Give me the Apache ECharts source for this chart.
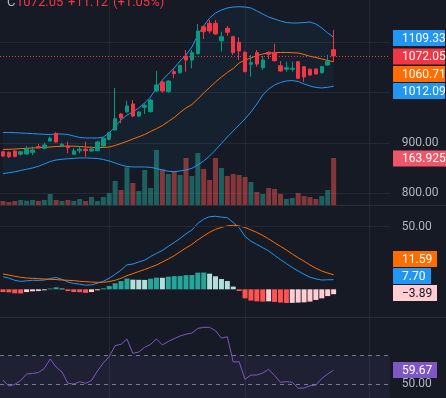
<!DOCTYPE html>
<html>
<head>
<meta charset="utf-8">
<title>K线 + BOLL + MACD + RSI</title>
<script src="https://cdn.jsdelivr.net/npm/echarts@6/dist/echarts.min.js"></script>
<style>
  html, body { margin: 0; padding: 0; background: #161a25; overflow: hidden; }
  #main { width: 446px; height: 398px; }
</style>
</head>
<body>
<div id="main"></div>
<script>
// ---- 数据 ----
var categories = ['1','2','3','4','5','6','7','8','9','10','11','12','13','14','15','16','17','18','19','20',
  '21','22','23','24','25','26','27','28','29','30','31','32','33','34','35','36','37','38','39','40',
  '41','42','43','44','45','46','47','48','49','50','51','52','53','54','55','56','57'];

// [open, close, low, high]
var ohlc = [
  [882.5, 874.0, 872.0, 884.0], [881.3, 872.6, 870.0, 883.0], [883.9, 873.4, 871.0, 886.0],
  [877.4, 882.5, 875.0, 884.0], [878.0, 887.9, 876.0, 893.8], [881.3, 885.9, 876.0, 892.5],
  [892.5, 889.9, 889.0, 897.8], [889.3, 895.8, 887.3, 900.4], [903.7, 909.0, 902.3, 912.3],
  [919.0, 901.7, 900.0, 921.0], [894.4, 897.2, 892.5, 900.4], [893.8, 890.4, 879.4, 902.3],
  [877.4, 884.0, 876.0, 889.3], [884.5, 887.3, 879.4, 893.8], [887.3, 884.5, 872.6, 902.3],
  [883.9, 887.9, 882.5, 889.3], [884.5, 901.7, 884.0, 904.0], [893.8, 909.0, 892.0, 911.0],
  [907.1, 920.2, 905.0, 922.0], [925.5, 947.9, 924.0, 1008.7], [957.2, 949.3, 938.8, 959.0],
  [961.2, 973.0, 959.0, 983.6], [977.0, 953.2, 951.0, 984.9], [953.2, 961.2, 951.0, 963.0],
  [970.5, 974.4, 957.2, 978.4], [961.8, 984.9, 960.0, 987.0], [1002.7, 1014.6, 1001.0, 1042.3],
  [1020.5, 1002.7, 999.4, 1022.0], [1001.3, 1022.5, 999.0, 1024.0], [1041.0, 1037.0, 1028.0, 1046.0],
  [1039.0, 1053.0, 1037.0, 1055.0], [1072.0, 1064.1, 1041.0, 1083.9], [1064.1, 1078.6, 1047.7, 1083.9],
  [1076.6, 1121.5, 1075.0, 1135.4], [1130.0, 1120.2, 1105.7, 1132.0], [1136.8, 1121.5, 1117.0, 1143.3],
  [1136.8, 1115.6, 1114.0, 1143.3], [1102.3, 1110.3, 1080.6, 1120.2], [1126.9, 1119.0, 1112.2, 1131.4],
  [1110.3, 1078.6, 1074.0, 1112.0], [1099.2, 1082.0, 1064.1, 1109.0], [1079.4, 1041.0, 1039.8, 1081.0],
  [1055.6, 1058.7, 1031.0, 1074.0], [1078.6, 1056.2, 1050.9, 1083.9], [1048.9, 1064.1, 1044.3, 1072.0],
  [1079.4, 1075.4, 1066.0, 1081.0], [1078.6, 1062.7, 1061.0, 1096.4], [1052.8, 1042.3, 1041.0, 1062.0],
  [1045.7, 1048.9, 1041.0, 1060.8], [1045.7, 1047.6, 1041.0, 1060.8], [1060.8, 1027.9, 1026.0, 1062.0],
  [1050.9, 1030.5, 1021.0, 1052.0], [1045.7, 1034.4, 1033.0, 1047.0], [1046.3, 1036.4, 1035.0, 1047.0],
  [1039.0, 1050.9, 1037.0, 1053.0], [1054.2, 1060.93, 1053.0, 1074.4], [1084.6, 1072.05, 1060.8, 1123.5]
];

var volumes = [14, 10.5, 14, 17.4, 15.1, 17.4, 14, 17.4, 38.4, 17.4, 14, 17.4, 14, 20.9, 14, 27.9, 14, 27.9,
  41.9, 83.7, 52.3, 131.4, 76.7, 48.8, 122.1, 59.3, 191.8, 124.4, 108.1, 116.3, 104.6, 163.9, 101.1, 181.4,
  125.6, 87.2, 163.9, 129, 101.1, 108.1, 104.6, 97.7, 80.2, 45.3, 38.4, 59.3, 55.8, 38.4, 20.9, 24.4, 41.9,
  31.4, 27.9, 20.9, 31.4, 52.3, 163.925];

var bbUpper = [920.6, 920.6, 920.2, 919.6, 919.0, 918.2, 917.6, 917.0, 916.6, 917.6, 917.6, 916.6, 913.6,
  910.7, 909.7, 909.7, 909.7, 911.6, 919.6, 932.4, 945.3, 955.2, 961.1, 969.1, 979.0, 990.8, 1008.7, 1024.5,
  1036.4, 1048.3, 1062.1, 1074.0, 1089.8, 1113.6, 1131.4, 1147.3, 1157.2, 1163.1, 1167.1, 1169.0, 1169.6,
  1169.0, 1167.1, 1161.1, 1155.2, 1149.2, 1145.3, 1141.3, 1138.3, 1137.4, 1137.4, 1138.3, 1139.3, 1135.4,
  1127.5, 1117.6, 1109.33];
var bbMid = [886.9, 887.3, 887.9, 888.5, 889.3, 889.9, 890.5, 891.2, 891.8, 892.8, 893.2, 893.8, 893.4,
  892.8, 891.8, 891.2, 890.9, 890.9, 891.8, 894.8, 898.8, 903.1, 907.7, 912.0, 916.6, 922.5, 928.1, 934.4,
  942.3, 950.3, 960.2, 969.1, 976.0, 986.9, 998.8, 1009.7, 1020.5, 1030.4, 1039.4, 1047.3, 1058.2, 1064.1,
  1068.1, 1073.0, 1076.0, 1078.0, 1078.6, 1079.0, 1079.0, 1078.6, 1078.0, 1075.0, 1071.4, 1069.1, 1066.1,
  1063.1, 1060.71];
var bbLower = [839.0, 840.8, 842.7, 845.3, 847.7, 850.3, 853.6, 858.2, 863.1, 866.1, 867.5, 868.5, 869.5,
  870.1, 870.1, 869.7, 869.1, 867.1, 864.1, 860.2, 856.2, 853.2, 852.3, 852.3, 852.3, 851.6, 849.3, 846.3,
  843.7, 842.9, 844.3, 846.3, 849.7, 856.2, 864.1, 874.0, 885.9, 898.8, 911.6, 923.5, 935.4, 947.3, 961.1,
  977.0, 994.8, 1006.7, 1014.6, 1019.6, 1022.5, 1023.5, 1021.5, 1016.6, 1012.6, 1009.7, 1008.7, 1010.1,
  1012.09];

var macdLine = [10.0, 9.0, 7.2, 6.3, 6.8, 7.2, 7.1, 7.4, 8.6, 9.4, 8.0, 5.8, 4.7, 4.1, 3.3, 3.6, 4.8, 6.4,
  8.8, 12.0, 15.4, 19.5, 20.2, 21.8, 23.3, 26.1, 28.7, 31.0, 34.3, 37.3, 40.6, 44.3, 47.3, 52.7, 56.0, 58.0,
  58.3, 57.6, 57.2, 53.3, 49.2, 42.2, 38.4, 35.8, 33.2, 30.6, 27.1, 23.7, 20.5, 17.4, 14.6, 12.0, 9.6, 8.3,
  7.4, 7.6, 7.70];
var macdSignal = [12.2, 11.4, 10.4, 9.6, 9.0, 8.8, 8.5, 8.2, 8.0, 7.8, 7.4, 7.2, 6.9, 6.4, 6.1, 5.8, 5.6,
  5.6, 6.2, 7.2, 8.8, 10.9, 12.5, 14.2, 15.8, 17.6, 19.4, 21.8, 24.2, 26.8, 30.0, 33.0, 35.9, 39.4, 42.6,
  45.5, 47.9, 49.4, 50.6, 51.1, 50.6, 49.4, 47.4, 45.4, 43.0, 40.2, 37.2, 34.3, 31.4, 28.2, 25.2, 22.4,
  19.4, 16.8, 14.6, 13.0, 11.59];
var macdHist = [-2.2, -2.4, -3.2, -3.3, -2.2, -1.6, -1.4, -0.8, 0.6, 1.6, 0.6, -1.4, -2.2, -2.3, -2.8,
  -2.2, -0.8, 0.8, 2.6, 4.8, 6.6, 8.6, 7.7, 7.6, 7.5, 8.5, 9.3, 9.2, 10.1, 10.5, 10.6, 11.3, 11.4, 13.3,
  13.4, 12.5, 10.4, 8.2, 6.6, 2.2, -1.36, -7.2, -9.0, -9.6, -9.8, -9.6, -10.1, -10.6, -10.9, -10.8, -10.6,
  -10.4, -9.8, -8.5, -7.2, -5.4, -3.89];

var rsiValues = [52.9, 48.8, 49.9, 52.6, 57.0, 57.4, 58.0, 60.8, 67.2, 61.8, 58.4, 50.7, 50.2, 51.8, 50.7,
  52.6, 59.1, 64.5, 68.9, 76.4, 77.2, 80.9, 71.1, 72.0, 75.2, 77.2, 80.9, 76.8, 79.2, 81.1, 82.9, 84.1,
  84.9, 88.1, 88.8, 88.8, 86.5, 81.5, 82.4, 65.2, 65.4, 53.4, 56.3, 56.3, 57.7, 60.2, 56.0, 51.4, 51.8,
  51.4, 47.3, 47.5, 49.0, 49.5, 54.0, 57.0, 59.67];

var priceLabels = [800, 900];
var macdLabels = [50];
var rsiLabels = [75, 50];
var rsiBands = [70, 50, 30];
var timeGridIdx = [18, 41, 62];

// ---- 样式 ----
var UP = '#089981', DOWN = '#f23645';
var GRID_LINE = '#242833', SEP_LINE = '#2a2e39', AXIS_TXT = '#b2b5be';
var FONT = 'Roboto, sans-serif';
var PAD = 9; // 右侧空白的K线位

var xData = categories.slice();
for (var k = 1; k <= PAD; k++) { xData.push('+' + k); }

var last = ohlc.length - 1;
var lastClose = ohlc[last][1];
var change = lastClose - ohlc[last - 1][1];
var changePct = change / ohlc[last - 1][1] * 100;

var L = -4.3, R = 56.3;
function xAxisOf(i) {
  return { type: 'category', gridIndex: i, data: xData, boundaryGap: true, show: false };
}
function fmt2(v) { return (v < 0 ? '\u2212' : '') + Math.abs(v).toFixed(2); }

var chart = echarts.init(document.getElementById('main'));

var option = {
  animation: false,
  backgroundColor: '#161a25',
  textStyle: { fontFamily: FONT },
  grid: [
    { left: L, right: R, top: 0, height: 205 },     // 主图
    { left: L, right: R, top: 145, height: 60 },    // 成交量
    { left: L, right: R, top: 205, height: 112 },   // MACD
    { left: L, right: R, top: 317, height: 81 }     // RSI
  ],
  xAxis: [xAxisOf(0), xAxisOf(1), xAxisOf(2), xAxisOf(3)],
  yAxis: [
    {
      gridIndex: 0, type: 'value', position: 'right', min: 777, max: 1182.9,
      axisLine: { show: false }, axisTick: { show: false },
      splitLine: { show: true, showMinLine: false, showMaxLine: false, lineStyle: { color: GRID_LINE } },
      axisLabel: {
        margin: 12, color: AXIS_TXT, fontSize: 12, fontFamily: FONT,
        showMinLabel: false, showMaxLabel: false,
        formatter: function (v) { return priceLabels.indexOf(v) >= 0 ? v.toFixed(2) : ''; }
      }
    },
    { gridIndex: 1, type: 'value', min: 0, max: 209.3, show: false },
    { gridIndex: 2, type: 'value', min: -22.1, max: 67.3, show: false },
    { gridIndex: 3, type: 'value', min: 40.67, max: 95.85, show: false }
  ],
  series: [
    // 布林带填充
    { type: 'line', xAxisIndex: 0, yAxisIndex: 0, data: bbLower, stack: 'bb', symbol: 'none',
      lineStyle: { opacity: 0 }, silent: true, z: 1 },
    { type: 'line', xAxisIndex: 0, yAxisIndex: 0, stack: 'bb', symbol: 'none', silent: true, z: 1,
      data: bbUpper.map(function (u, i) { return +(u - bbLower[i]).toFixed(2); }),
      lineStyle: { opacity: 0 }, areaStyle: { color: 'rgba(33,150,243,0.06)', opacity: 1 } },
    // 成交量
    { type: 'bar', xAxisIndex: 1, yAxisIndex: 1, barWidth: 5, silent: true, z: 2,
      data: volumes.map(function (v, i) {
        return { value: v, itemStyle: { color: ohlc[i][1] >= ohlc[i][0] ? 'rgba(38,166,154,0.5)' : 'rgba(239,83,80,0.5)' } };
      }) },
    // 布林线
    { type: 'line', xAxisIndex: 0, yAxisIndex: 0, data: bbUpper, symbol: 'none', silent: true, z: 3,
      lineStyle: { color: '#2196f3', width: 1 } },
    { type: 'line', xAxisIndex: 0, yAxisIndex: 0, data: bbMid, symbol: 'none', silent: true, z: 3,
      lineStyle: { color: '#ff6d00', width: 1 } },
    { type: 'line', xAxisIndex: 0, yAxisIndex: 0, data: bbLower, symbol: 'none', silent: true, z: 3,
      lineStyle: { color: '#2196f3', width: 1 } },
    // K线
    { type: 'candlestick', xAxisIndex: 0, yAxisIndex: 0, data: ohlc, barWidth: 4, z: 4, silent: true,
      itemStyle: { color: UP, color0: DOWN, borderColor: UP, borderColor0: DOWN, borderWidth: 1 },
      markLine: {
        silent: true, symbol: ['none', 'none'], label: { show: false },
        lineStyle: { color: DOWN, type: [1, 2], width: 1 },
        data: [{ yAxis: lastClose }]
      } },
    // MACD 柱
    { type: 'bar', xAxisIndex: 2, yAxisIndex: 2, barWidth: 5, silent: true, z: 2,
      data: macdHist.map(function (v, i) {
        var p = i > 0 ? macdHist[i - 1] : v;
        var c = v >= 0 ? (p < v ? '#26a69a' : '#b2dfdb') : (p < v ? '#ffcdd2' : '#ff5252');
        return { value: v, itemStyle: { color: c } };
      }),
      markLine: {
        silent: true, symbol: ['none', 'none'],
        data: macdLabels.map(function (v) {
          return { yAxis: v, lineStyle: { color: GRID_LINE, type: 'solid', width: 1 },
            label: { show: true, position: 'end', distance: 12, formatter: v.toFixed(2),
              color: AXIS_TXT, fontSize: 12, fontFamily: FONT } };
        })
      } },
    { type: 'line', xAxisIndex: 2, yAxisIndex: 2, data: macdLine, symbol: 'none', silent: true, z: 3,
      lineStyle: { color: '#2196f3', width: 1 } },
    { type: 'line', xAxisIndex: 2, yAxisIndex: 2, data: macdSignal, symbol: 'none', silent: true, z: 3,
      lineStyle: { color: '#ff6d00', width: 1 } },
    // RSI
    { type: 'line', xAxisIndex: 3, yAxisIndex: 3, data: rsiValues, symbol: 'none', silent: true, z: 3,
      lineStyle: { color: '#7e57c2', width: 1 },
      markArea: { silent: true, itemStyle: { color: 'rgba(126,87,194,0.1)' },
        data: [[{ yAxis: rsiBands[0] }, { yAxis: rsiBands[2] }]] },
      markLine: {
        silent: true, symbol: ['none', 'none'],
        data: rsiBands.slice(0, 2).map(function (v) {
          return { yAxis: v, lineStyle: { color: '#787b86', type: [4, 4], width: 1 },
            label: { show: rsiLabels.indexOf(v) >= 0, position: 'end', distance: 12, formatter: v.toFixed(2),
              color: AXIS_TXT, fontSize: 12, fontFamily: FONT } };
        }).concat(rsiLabels.filter(function (v) { return rsiBands.indexOf(v) < 0; }).map(function (v) {
          return { yAxis: v, lineStyle: { opacity: 0 },
            label: { show: true, position: 'end', distance: 12, formatter: v.toFixed(2),
              color: AXIS_TXT, fontSize: 12, fontFamily: FONT } };
        }))
      } }
  ]
};
chart.setOption(option);

// ---- 竖向网格线、分隔线、价格标签、图例 ----
function tag(y, w, bg, txt, color) {
  return [
    { type: 'rect', z: 100, shape: { x: 393, y: y, width: w, height: 16 }, style: { fill: bg } },
    { type: 'text', z: 101, x: 402, y: y + 8.5,
      style: { text: txt, fill: color || '#ffffff', font: '12px ' + FONT, textAlign: 'left', textVerticalAlign: 'middle' } }
  ];
}
var g = [];
timeGridIdx.forEach(function (i) {
  var x = Math.round(chart.convertToPixel({ xAxisIndex: 0 }, xData[i])) + 0.5;
  g.push({ type: 'line', z: 0, silent: true, shape: { x1: x, y1: 0, x2: x, y2: 398 },
    style: { stroke: GRID_LINE, lineWidth: 1 } });
});
[205.5, 317.5].forEach(function (y) {
  g.push({ type: 'line', z: 50, silent: true, shape: { x1: 0, y1: y, x2: 446, y2: y },
    style: { stroke: SEP_LINE, lineWidth: 1 } });
});
g = g.concat(
  tag(30, 52, '#2196f3', bbUpper[last].toFixed(2)),
  tag(48.5, 52, DOWN, lastClose.toFixed(2)),
  tag(66, 52, '#ff6d00', bbMid[last].toFixed(2)),
  tag(83, 52, '#2196f3', bbLower[last].toFixed(2)),
  tag(150.5, 53, '#f0566a', volumes[last].toFixed(3) + 'K'),
  tag(251, 44, '#ff6d00', fmt2(macdSignal[last])),
  tag(268, 38, '#2196f3', fmt2(macdLine[last])),
  tag(285, 44, '#ffcdd2', fmt2(macdHist[last]), '#131722'),
  tag(362, 44, '#7e57c2', fmt2(rsiValues[last]))
);
// 顶部图例
var legendFont = '13px ' + FONT;
[
  { x: 7, t: 'C', c: AXIS_TXT },
  { x: 16, t: lastClose.toFixed(2), c: DOWN },
  { x: 68, t: (change >= 0 ? '+' : '') + change.toFixed(2), c: DOWN },
  { x: 113, t: '(' + (changePct >= 0 ? '+' : '') + changePct.toFixed(2) + '%)', c: DOWN }
].forEach(function (it) {
  g.push({ type: 'text', z: 100, x: it.x, y: 3,
    style: { text: it.t, fill: it.c, font: legendFont, textAlign: 'left', textVerticalAlign: 'middle' } });
});
chart.setOption({ graphic: g });
</script>
</body>
</html>
